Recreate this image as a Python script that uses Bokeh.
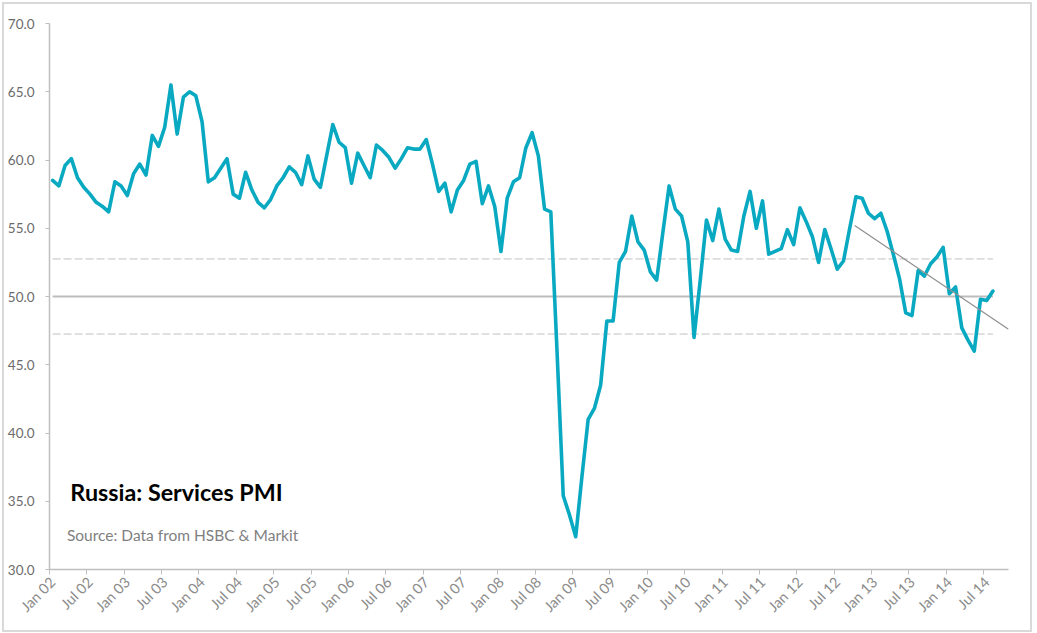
import math
from bokeh.plotting import figure
from bokeh.models import FixedTicker, Label, NumeralTickFormatter
from bokeh.embed import file_html
from bokeh.resources import INLINE

# ---- data (monthly, Jan 2002 .. Aug 2014) ----
tick_labels = ["Jan 02", "Jul 02", "Jan 03", "Jul 03", "Jan 04", "Jul 04", "Jan 05", "Jul 05",
               "Jan 06", "Jul 06", "Jan 07", "Jul 07", "Jan 08", "Jul 08", "Jan 09", "Jul 09",
               "Jan 10", "Jul 10", "Jan 11", "Jul 11", "Jan 12", "Jul 12", "Jan 13", "Jul 13",
               "Jan 14", "Jul 14"]
tick_months = [6 * k for k in range(len(tick_labels))]

pmi = [
    58.5, 58.1, 59.6, 60.1, 58.7, 58.0, 57.5, 56.9, 56.6, 56.2, 58.4, 58.1,   # 2002
    57.4, 59.0, 59.7, 58.9, 61.8, 61.0, 62.4, 65.5, 61.9, 64.6, 65.0, 64.7,   # 2003
    62.8, 58.4, 58.7, 59.4, 60.1, 57.5, 57.2, 59.1, 57.8, 56.9, 56.5, 57.1,   # 2004
    58.1, 58.7, 59.5, 59.1, 58.2, 60.3, 58.6, 58.0, 60.3, 62.6, 61.3, 60.9,   # 2005
    58.3, 60.5, 59.6, 58.7, 61.1, 60.7, 60.2, 59.4, 60.1, 60.9, 60.8, 60.8,   # 2006
    61.5, 59.7, 57.7, 58.3, 56.2, 57.8, 58.5, 59.7, 59.9, 56.8, 58.1, 56.6,   # 2007
    53.3, 57.2, 58.4, 58.7, 60.9, 62.0, 60.3, 56.4, 56.2, 46.0, 35.4, 34.0,   # 2008
    32.4, 36.8, 41.0, 41.8, 43.5, 48.2, 48.2, 52.5, 53.3, 55.9, 54.0, 53.4,   # 2009
    51.8, 51.2, 54.7, 58.1, 56.4, 55.9, 54.0, 47.0, 51.2, 55.6, 54.1, 56.4,   # 2010
    54.2, 53.4, 53.3, 55.9, 57.7, 55.0, 57.0, 53.1, 53.3, 53.5, 54.9, 53.8,   # 2011
    56.5, 55.5, 54.4, 52.5, 54.9, 53.5, 52.0, 52.6, 55.0, 57.3, 57.2, 56.1,   # 2012
    55.7, 56.1, 54.8, 53.1, 51.3, 48.8, 48.6, 51.9, 51.5, 52.4, 52.9, 53.6,   # 2013
    50.2, 50.7, 47.7, 46.8, 46.0, 49.8, 49.7, 50.4,                           # 2014
]
months = list(range(len(pmi)))

neutral_level = 50.0
upper_band = 52.75
lower_band = 47.25

trend_months = [128.8, 153.5]
trend_values = [55.2, 47.6]

n_categories = 154

# ---- figure ----
p = figure(width=1026, height=626, output_backend="svg", toolbar_location=None,
           x_range=(-0.5, n_categories - 0.5), y_range=(30, 70),
           min_border_left=43, min_border_right=22, min_border_top=19, min_border_bottom=61)
p.margin = (4, 0, 0, 4)
p.styles = {"outline": "2px solid #d9d9d9"}
p.outline_line_color = None
p.xgrid.grid_line_color = None
p.ygrid.grid_line_color = None
p.background_fill_color = "white"
p.border_fill_color = "white"

FONT = "Lato"
AXIS_COL = "#bfbfbf"

# x axis
xa = p.xaxis[0]
xa.ticker = FixedTicker(ticks=tick_months, minor_ticks=[m - 0.5 for m in tick_months])
xa.major_label_overrides = {m: lab for m, lab in zip(tick_months, tick_labels)}
xa.major_label_orientation = math.pi / 4
xa.major_tick_out = 0
xa.major_tick_in = 0
xa.minor_tick_out = 5
xa.minor_tick_in = 0
xa.minor_tick_line_color = AXIS_COL
xa.minor_tick_line_width = 1
xa.axis_line_color = AXIS_COL
xa.axis_line_width = 1.5
xa.major_label_text_font = FONT
xa.major_label_text_font_size = "14.5px"
xa.major_label_text_color = "#8c8c8c"
xa.major_label_standoff = 5

# y axis
ya = p.yaxis[0]
ya.ticker = FixedTicker(ticks=[30, 35, 40, 45, 50, 55, 60, 65, 70])
ya.formatter = NumeralTickFormatter(format="0.0")
ya.major_tick_out = 4
ya.major_tick_in = 0
ya.major_tick_line_color = AXIS_COL
ya.minor_tick_line_color = None
ya.axis_line_color = AXIS_COL
ya.axis_line_width = 1.5
ya.major_label_text_font = FONT
ya.major_label_text_font_size = "13.5px"
ya.major_label_text_color = "#6b6b6b"
ya.major_label_standoff = 11

# reference lines
p.line(months, [upper_band] * len(months), line_color="#c0c0c0", line_width=1, line_dash="8 3")
p.line(months, [lower_band] * len(months), line_color="#c0c0c0", line_width=1, line_dash="8 3")
p.line(months, [neutral_level] * len(months), line_color="#bdbdbd", line_width=1.8)

# main series
p.line(months, pmi, line_color="#0aa9c2", line_width=3.6, line_join="round", line_cap="round")

# trend line
p.line(trend_months, trend_values, line_color="#8f8f8f", line_width=1.2)

# texts
p.add_layout(Label(x=2.85, y=35.7, text="Russia: Services PMI", text_font=FONT,
                   text_font_style="bold", text_font_size="23.3px", text_color="black",
                   text_baseline="alphabetic"))
p.add_layout(Label(x=2.3, y=32.55, text="Source: Data from HSBC & Markit", text_font=FONT,
                   text_font_size="15.5px", text_color="#7f7f7f", text_baseline="alphabetic"))

open("out.html", "w").write(file_html(p, INLINE))
